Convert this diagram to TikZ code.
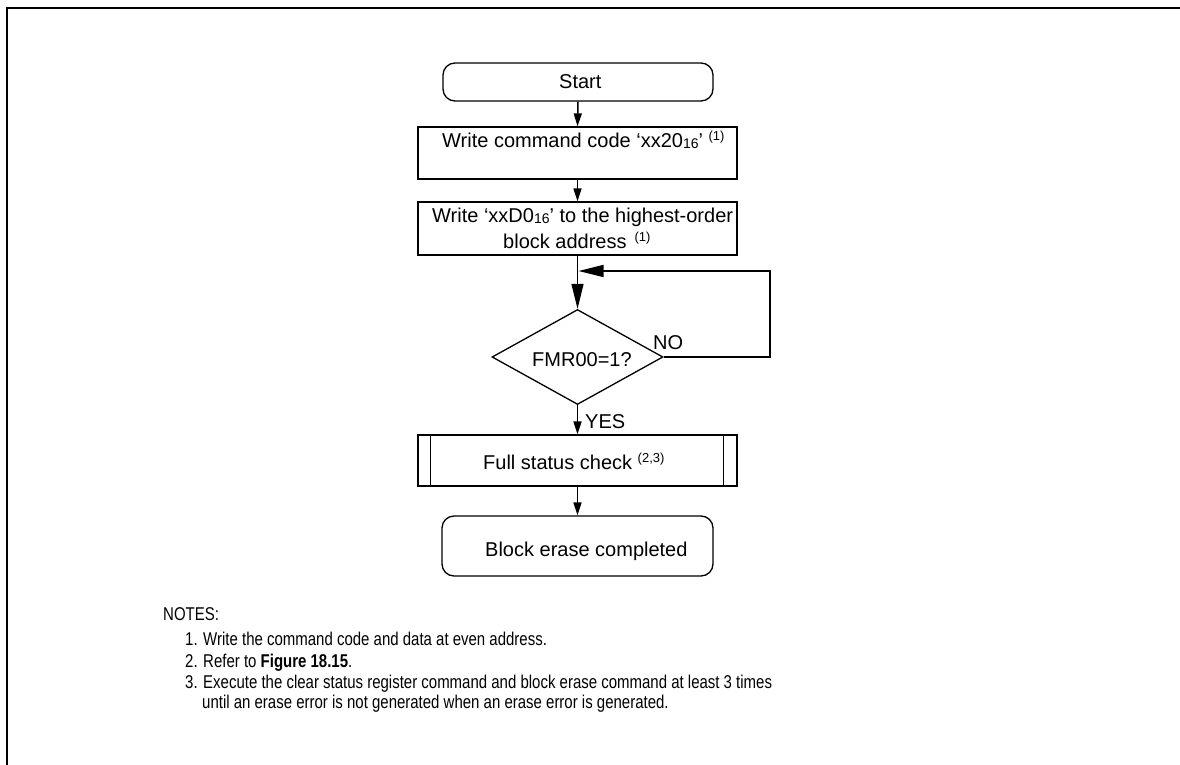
\documentclass[tikz,border=0pt]{standalone}
\usepackage{fontspec}
\setmainfont{Liberation Sans}
\newfontfamily\notesfont{Liberation Sans}[FakeStretch=0.81]
\usetikzlibrary{shapes.geometric,arrows.meta,calc}
\newcommand{\mysup}[1]{\raisebox{7pt}{\fontsize{13}{13}\selectfont #1}}
\newcommand{\mysub}[1]{\raisebox{-1pt}{\fontsize{14}{14}\selectfont #1}}
\tikzset{
  box/.style={draw, line width=1.3pt, rectangle, inner sep=0pt},
  rbox/.style={box, rounded corners=12pt},
  txt/.style={inner sep=0pt, anchor=base west, font=\fontsize{20}{24}\selectfont},
  smallarr/.style={line width=1.5pt, -{Triangle[length=13pt,width=8pt]}},
  bigarr/.style={line width=1.5pt, -{Triangle[length=25pt,width=12pt]}},
  note/.style={inner sep=0pt, anchor=base west, font=\notesfont\fontsize{18.5}{20}\selectfont},
}
\begin{document}
\begin{tikzpicture}[x=1pt,y=-1pt]
\useasboundingbox (0,0) rectangle (1180,765);
% frame
\draw[line width=2.3pt] (7,765) -- (7,8) -- (1180,8);

% shapes
\node[rbox, minimum width=270pt, minimum height=38pt] (start) at (578,82) {};
\node[box, minimum width=319pt, minimum height=52pt] (b1) at (577.5,153) {};
\node[box, minimum width=319pt, minimum height=53pt] (b2) at (577.5,228.5) {};
\node[draw, line width=1.3pt, diamond, inner sep=0pt, minimum width=171pt, minimum height=95pt] (dia) at (577.5,357) {};
\node[box, minimum width=319pt, minimum height=51pt] (b3) at (577.5,460.5) {};
\draw[line width=1.3pt] ($(b3.north west)+(13,0)$) -- ($(b3.south west)+(13,0)$);
\draw[line width=1.3pt] ($(b3.north east)+(-14,0)$) -- ($(b3.south east)+(-14,0)$);
\node[rbox, minimum width=271pt, minimum height=60pt] (end) at (577.5,546) {};

% texts
\node[txt] (tstart) at (559,89) {Start};
\node[txt] (tb1) at (442,147) {Write command code ‘xx20\mysub{16}’ \mysup{(1)}};
\node[txt] (tb2a) at (432,222) {Write ‘xxD0\mysub{16}’ to the highest-order};
\node[txt] (tb2b) at (503,248) {block address\hspace{8pt}\mysup{(1)}};
\node[txt] (tdia) at (532,366) {FMR00=1?};
\node[txt] (tno) at (653,349) {NO};
\node[txt] (tyes) at (585,428) {YES};
\node[txt] (tb3) at (483,469) {Full status check \mysup{(2,3)}};
\node[txt] (tend) at (485,556) {Block erase completed};

% connectors
\coordinate (loopc) at (770,271);
\coordinate (join) at (578.5,271);
\draw[smallarr] (start.south) -- (b1.north);
\draw[smallarr] (b1.south) -- (b2.north);
\draw[bigarr] (b2.south) -- (dia.north);
\draw[bigarr] (dia.east) -| (loopc) -- (join);
\draw[smallarr] (dia.south) -- (b3.north);
\draw[smallarr] (b3.south) -- (end.north);

% notes
\node[note] (n0) at (163,620) {NOTES:};
\node[note] (n1) at (185,645) {1. Write the command code and data at even address.};
\node[note] (n2) at (185,667) {2. Refer to \textbf{Figure 18.15}.};
\node[note] (n3) at (185,688) {3. Execute the clear status register command and block erase command at least 3 times};
\node[note] (n4) at (202,708) {until an erase error is not generated when an erase error is generated.};
\end{tikzpicture}
\end{document}
